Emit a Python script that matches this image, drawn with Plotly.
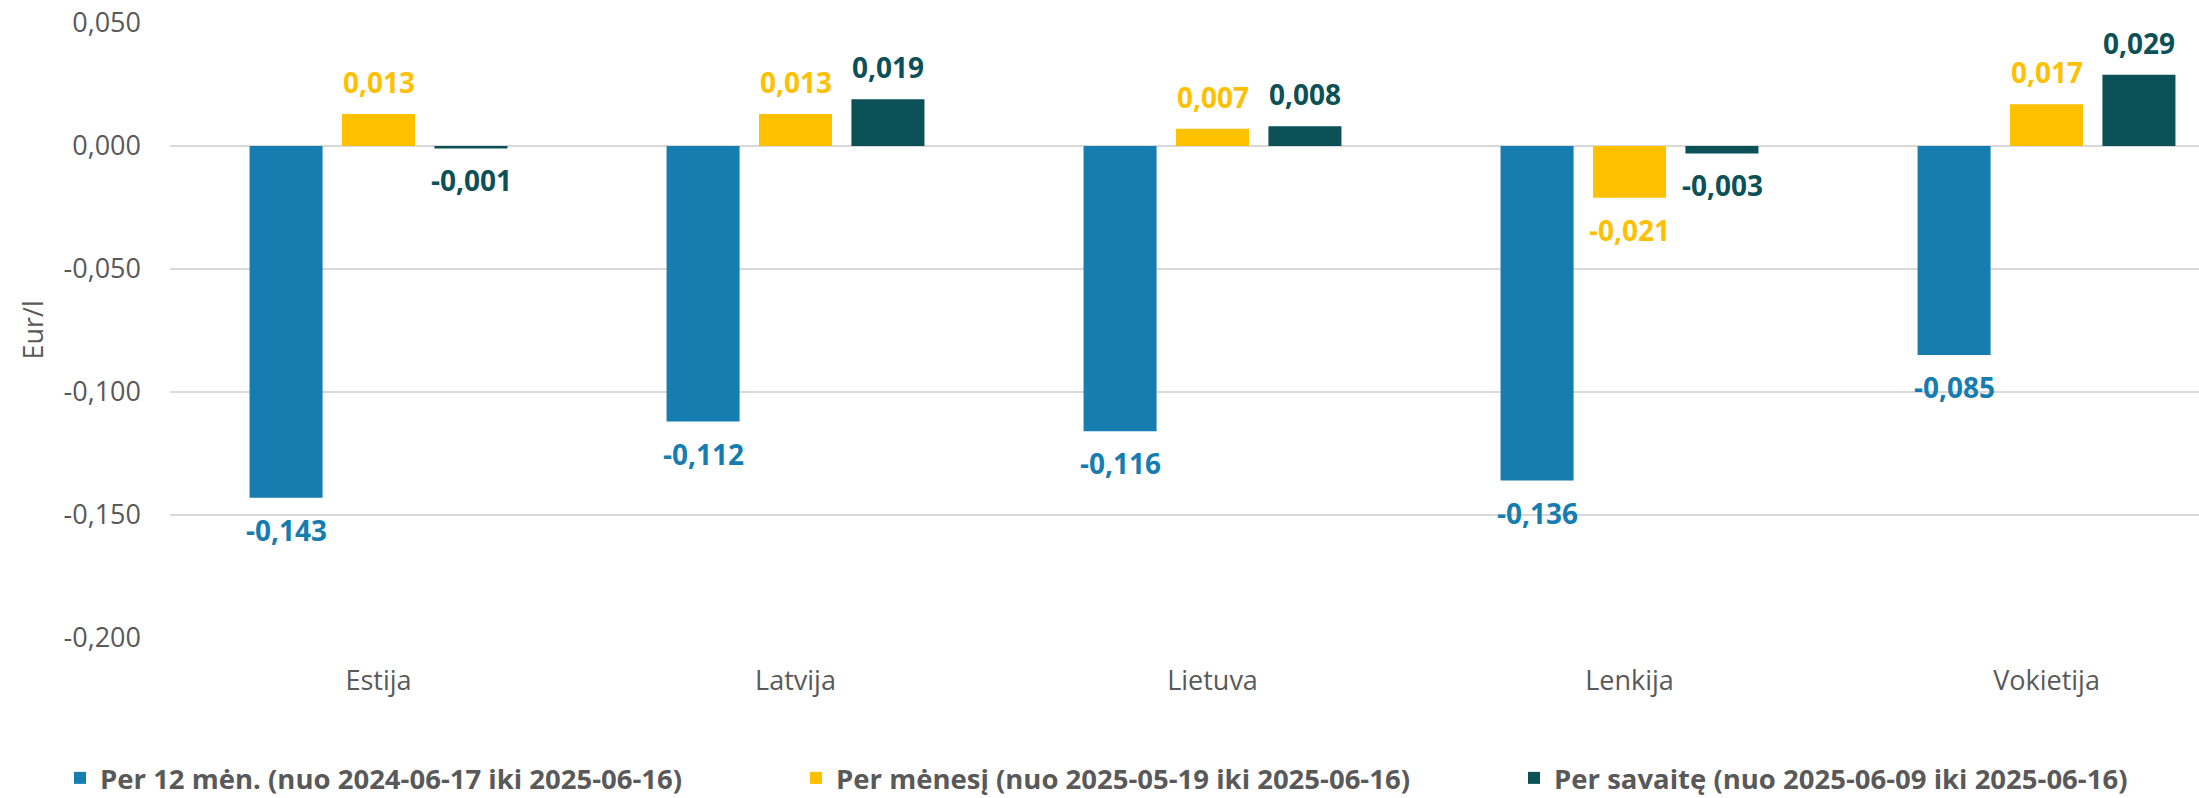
import plotly.graph_objects as go

categories = ["Estija", "Latvija", "Lietuva", "Lenkija", "Vokietija"]
series_names = [
    "Per 12 mėn. (nuo 2024-06-17 iki 2025-06-16)",
    "Per mėnesį (nuo 2025-05-19 iki 2025-06-16)",
    "Per savaitę (nuo 2025-06-09 iki 2025-06-16)",
]
v_12m = [-0.143, -0.112, -0.116, -0.136, -0.085]
v_month = [0.013, 0.013, 0.007, -0.021, 0.017]
v_week = [-0.001, 0.019, 0.008, -0.003, 0.029]
colors = ["#167DB0", "#FFC000", "#0B5157"]
y_ticks = [0.05, 0.0, -0.05, -0.1, -0.15, -0.2]

W, H = 2199, 798
ML, MR, MT, MB = 170, 0, 23, 160
cat_px = 417.0
plot_w = W - ML - MR
plot_h = H - MT - MB
x_range = [-0.5, -0.5 + plot_w / cat_px]
slot_px = 92.5
legend_sym_px = [80, 816, 1534]
legend_y_px = 778

def fmt(v):
    return f"{v:.3f}".replace(".", ",")

legend_ids = ["legend", "legend2", "legend3"]
fig = go.Figure()
all_series = [v_12m, v_month, v_week]
for name, vals, col, lid in zip(series_names, all_series, colors, legend_ids):
    fig.add_trace(go.Bar(
        x=categories, y=vals, name=name, legend=lid,
        marker=dict(color=col, line=dict(width=0)),
    ))

annotations = []
for si, (vals, col) in enumerate(zip(all_series, colors)):
    for c, v in zip(categories, vals):
        annotations.append(dict(
            x=c, y=v, xref="x", yref="y",
            text=fmt(v), showarrow=False,
            xshift=(si - 1) * slot_px,
            yshift=32 if v >= 0 else -32,
            yanchor="middle", xanchor="center",
            font=dict(family="Open Sans", size=28, color=col, weight="bold"),
        ))

annotations.append(dict(
    x=(32 - ML) / plot_w, y=0.5, xref="paper", yref="paper",
    text="Eur/l", showarrow=False, textangle=-90,
    xanchor="center", yanchor="middle",
    font=dict(family="Open Sans", size=27, color="#595959"),
))

def legend_cfg(px):
    return dict(
        orientation="h", x=(px - 20 - ML) / plot_w, xanchor="left",
        y=(MT + plot_h - legend_y_px) / plot_h, yanchor="middle",
        font=dict(family="Open Sans", size=27.5, color="#595959", weight="bold"),
        bgcolor="rgba(0,0,0,0)", borderwidth=0,
    )

fig.update_layout(
    width=W, height=H,
    margin=dict(l=ML, r=MR, t=MT, b=MB, autoexpand=False),
    paper_bgcolor="white", plot_bgcolor="white",
    barmode="group", bargap=0.335, bargroupgap=0.21,
    showlegend=True,
    legend=legend_cfg(legend_sym_px[0]),
    legend2=legend_cfg(legend_sym_px[1]),
    legend3=legend_cfg(legend_sym_px[2]),
    annotations=annotations,
    font=dict(family="Open Sans", color="#595959"),
)
fig.update_xaxes(
    range=x_range, showgrid=False, showline=False, zeroline=False,
    tickfont=dict(family="Open Sans", size=27, color="#595959"),
    ticks="", ticklabelstandoff=24, automargin=False,
)
fig.update_yaxes(
    range=[-0.2, 0.05], tickvals=y_ticks,
    ticktext=[fmt(t) for t in y_ticks],
    showgrid=True, gridcolor="#D9D9D9", gridwidth=2,
    zeroline=True, zerolinecolor="#D9D9D9", zerolinewidth=2,
    showline=False, ticks="", automargin=False,
    tickfont=dict(family="Open Sans", size=27, color="#595959"),
    ticklabelstandoff=28,
)

fig.write_html(
    "out.html",
    config={"displayModeBar": False},
    post_script="document.body.style.margin='0';document.body.style.overflow='hidden';",
)
